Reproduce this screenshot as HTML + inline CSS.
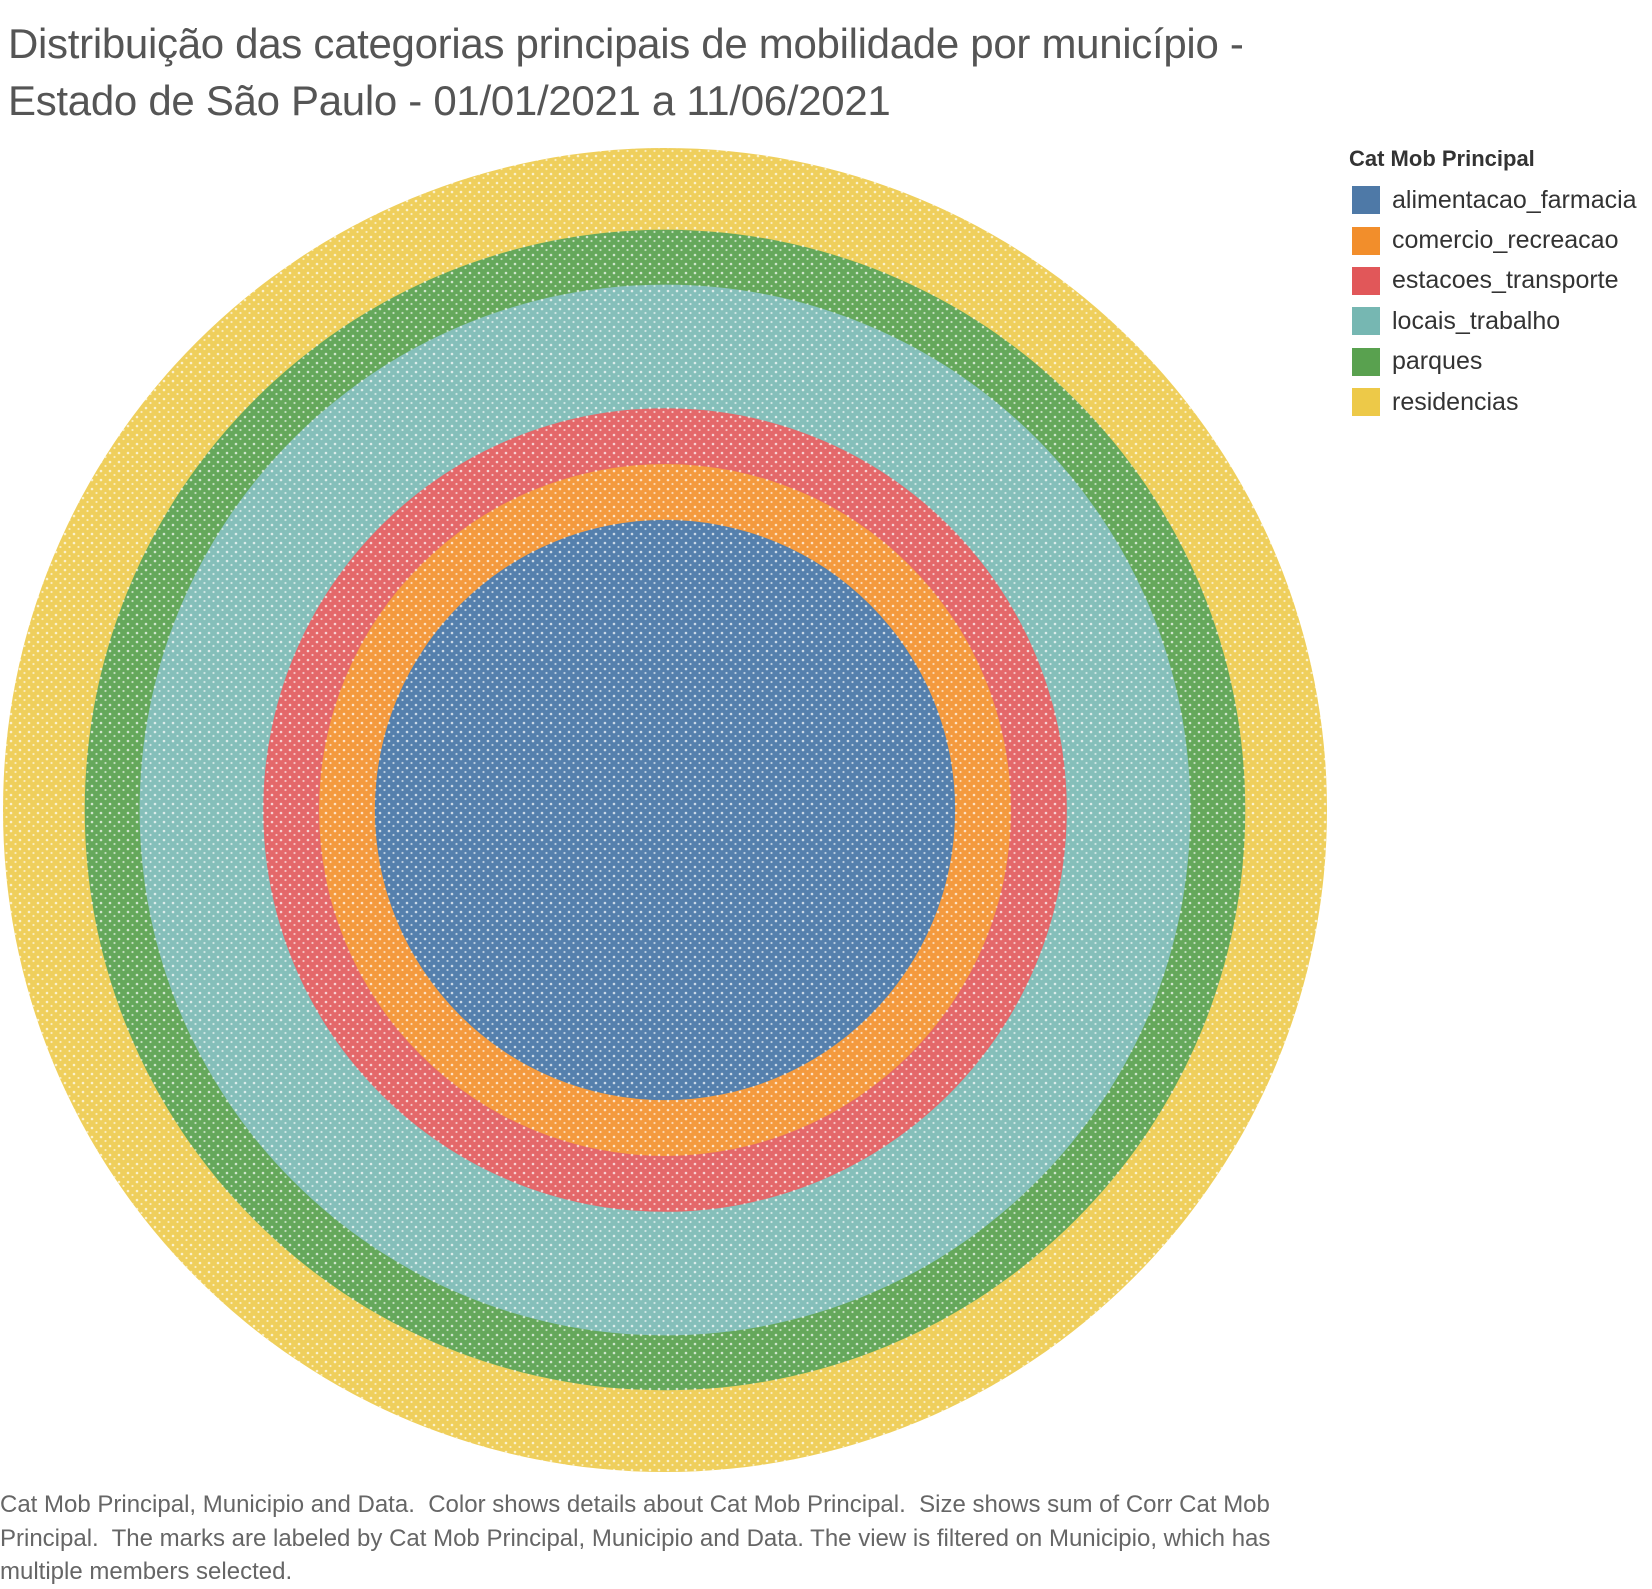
<!DOCTYPE html>
<html><head><meta charset="utf-8"><style>
body{margin:0;background:#fff;width:1652px;height:1586px;overflow:hidden;font-family:"Liberation Sans","DejaVu Sans",sans-serif;position:relative}
#title{position:absolute;left:8px;top:15px;font-size:42px;line-height:57px;color:#555;font-weight:normal;margin:0;white-space:nowrap;letter-spacing:-0.3px}
#legend{position:absolute;left:1349px;top:146px}
#legend .lt{font-size:22px;font-weight:bold;color:#333;margin-bottom:8px}
.le{display:flex;align-items:center;height:40.4px;font-size:25px;color:#333;white-space:nowrap}
.sw{width:28px;height:28px;margin-right:12px;margin-left:3px}
#foot{position:absolute;left:0;top:1488px;font-size:24px;line-height:33.5px;color:#666;width:1290px}
svg{position:absolute;left:0;top:0}
</style></head><body>
<h1 id="title">Distribuição das categorias principais de mobilidade por município -<br>Estado de São Paulo - 01/01/2021 a 11/06/2021</h1>
<svg id="chart" width="1652" height="1586">
<defs>
<pattern id="speck" width="9" height="9" patternUnits="userSpaceOnUse">
<circle cx="2" cy="3" r="1.3" fill="#fff" opacity="0.7"/>
<circle cx="6.5" cy="7" r="1.1" fill="#fff" opacity="0.6"/>
</pattern>
</defs>
</svg>
<div id="legend"><div class="lt">Cat Mob Principal</div></div>
<div id="foot">Cat Mob Principal, Municipio and Data.&nbsp; Color shows details about Cat Mob Principal.&nbsp; Size shows sum of Corr Cat Mob Principal.&nbsp; The marks are labeled by Cat Mob Principal, Municipio and Data. The view is filtered on Municipio, which has multiple members selected.</div>
<script>
const categories=["alimentacao_farmacia","comercio_recreacao","estacoes_transporte","locais_trabalho","parques","residencias"];
const cumulativeSize=[291,347,403,527,582,664];
const legendColors=["#4e79a7","#f28e2b","#e15759","#76b7b2","#59a14f","#edc948"];
const fillColors=["#5580ad","#f49a3e","#e4686a","#85bfba","#65a85b","#efcf5c"];
const cx=665,cy=810,R=662;
const maxV=Math.max(...cumulativeSize);
function rScale(v){return v/maxV*R;}
const svg=document.getElementById('chart');
const NS="http://www.w3.org/2000/svg";
for(let i=categories.length-1;i>=0;i--){
  const c=document.createElementNS(NS,'circle');
  c.setAttribute('cx',cx);c.setAttribute('cy',cy);c.setAttribute('r',rScale(cumulativeSize[i]));
  c.setAttribute('fill',fillColors[i]);
  
  
  svg.appendChild(c);
}
const ov=document.createElementNS(NS,'circle');
ov.setAttribute('cx',cx);ov.setAttribute('cy',cy);ov.setAttribute('r',rScale(maxV));
ov.setAttribute('fill','url(#speck)');


svg.appendChild(ov);
const lg=document.getElementById('legend');
categories.forEach((k,i)=>{
  const e=document.createElement('div');e.className='le';
  
  
  e.innerHTML='<div class="sw" style="background:'+legendColors[i]+'"></div>'+k;
  lg.appendChild(e);
});
</script>
</body></html>
